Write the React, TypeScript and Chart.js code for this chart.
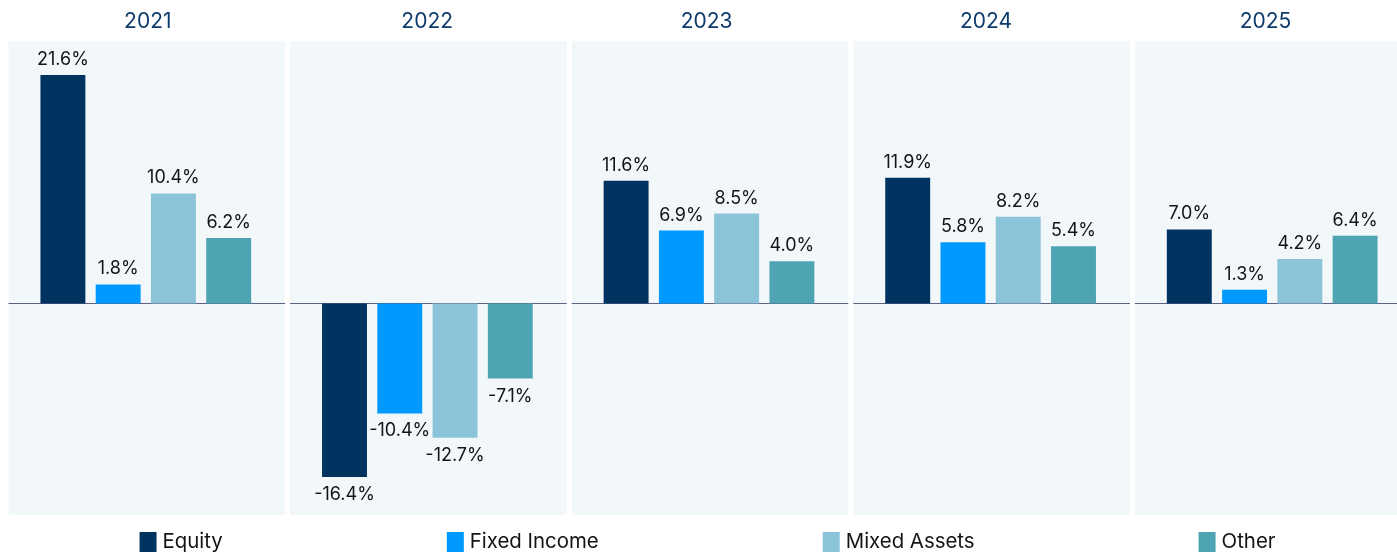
import React, { useEffect, useRef } from "react";
import { Chart, registerables } from "chart.js";

Chart.register(...registerables);

const years = ["2021", "2022", "2023", "2024", "2025"];
const equity = [21.6, -16.4, 11.6, 11.9, 7.0];
const fixedIncome = [1.8, -10.4, 6.9, 5.8, 1.3];
const mixedAssets = [10.4, -12.7, 8.5, 8.2, 4.2];
const other = [6.2, -7.1, 4.0, 5.4, 6.4];
const seriesNames = ["Equity", "Fixed Income", "Mixed Assets", "Other"];
const seriesColors = ["#00335f", "#0099ff", "#8bc4d8", "#4fa4b3"];

const FONT = "Inter, 'Noto Sans', sans-serif";

const panelPlugin = {
  id: "panels",
  beforeDatasetsDraw(chart: any) {
    const { ctx, chartArea } = chart;
    const n = chart.data.labels.length;
    const w = (chartArea.right - chartArea.left) / n;
    const y0 = chart.scales.y.getPixelForValue(0);
    ctx.save();
    for (let i = 0; i < n; i++) {
      const x0 = chartArea.left + i * w + 3.5;
      const x1 = chartArea.left + (i + 1) * w - 1.5;
      ctx.fillStyle = "#f2f7fa";
      ctx.fillRect(x0, chartArea.top, x1 - x0, chartArea.bottom - chartArea.top);
      ctx.strokeStyle = "#5d6185";
      ctx.lineWidth = 1.2;
      ctx.beginPath();
      ctx.moveTo(x0, y0);
      ctx.lineTo(x1, y0);
      ctx.stroke();
    }
    ctx.restore();
  },
};

const labelPlugin = {
  id: "valueLabels",
  afterDatasetsDraw(chart: any) {
    const ctx = chart.ctx;
    ctx.save();
    ctx.font = `18px ${FONT}`;
    ctx.fillStyle = "#141414";
    ctx.textAlign = "center";
    ctx.textBaseline = "alphabetic";
    chart.data.datasets.forEach((ds: any, di: number) => {
      const meta = chart.getDatasetMeta(di);
      meta.data.forEach((el: any, i: number) => {
        const v = ds.data[i];
        const text = v.toFixed(1) + "%";
        const y = v >= 0 ? el.y - 10 : el.y + 23;
        ctx.fillText(text, el.x, y);
      });
    });
    ctx.restore();
  },
};

const legendPlugin = {
  id: "customLegend",
  afterDraw(chart: any) {
    const { ctx, chartArea } = chart;
    ctx.save();
    ctx.font = `20.4px ${FONT}`;
    ctx.textBaseline = "alphabetic";
    ctx.textAlign = "left";
    const box = 17;
    const gapText = 6;
    const gapItem = 224;
    const items = chart.data.datasets.map((ds: any) => ({
      label: ds.label,
      color: ds.backgroundColor,
      w: box + gapText + ctx.measureText(ds.label).width,
    }));
    const total = items.reduce((s: number, it: any) => s + it.w, 0) + gapItem * (items.length - 1);
    const center = (chartArea.left + chartArea.right) / 2 - 1.5;
    let x = center - total / 2;
    const top = chartArea.bottom + 17;
    items.forEach((it: any) => {
      ctx.fillStyle = it.color;
      ctx.fillRect(x, top, box, 20);
      ctx.fillStyle = "#141414";
      ctx.fillText(it.label, x + box + gapText, top + 16);
      x += it.w + gapItem;
    });
    ctx.restore();
  },
};

export default function App() {
  const ref = useRef<HTMLCanvasElement>(null);
  useEffect(() => {
    if (!ref.current) return;
    const seriesData = [equity, fixedIncome, mixedAssets, other];
    const chart = new Chart(ref.current, {
      type: "bar",
      data: {
        labels: years,
        datasets: seriesNames.map((name, i) => ({
          label: name,
          data: seriesData[i],
          backgroundColor: seriesColors[i],
          borderWidth: 0,
          categoryPercentage: 0.785,
          barPercentage: 0.813,
        })),
      },
      options: {
        responsive: false,
        animation: false,
        layout: { padding: { left: 5, right: 0, top: 2, bottom: 37 } },
        plugins: {
          legend: { display: false },
          tooltip: { enabled: false },
          title: { display: false },
        },
        scales: {
          x: {
            display: false,
            grid: { display: false },
          },
          x2: {
            type: "linear",
            position: "top",
            bounds: "data",
            offset: false,
            min: -0.511,
            max: 4.528,
            grid: { display: false, drawTicks: false, offset: false },
            border: { display: false },
            afterBuildTicks: (axis: any) => {
              axis.ticks = years.map((_, i) => ({ value: i }));
            },
            ticks: {
              color: "#0e3a6c",
              font: { family: FONT, size: 21 },
              padding: 7,
              autoSkip: false,
              maxRotation: 0,
              callback: (v: any) => years[Math.round(Number(v))] ?? "",
            },
          },
          y: {
            display: false,
            min: -20,
            max: 24.8,
            grid: { display: false },
          },
        },
      },
      plugins: [panelPlugin, labelPlugin, legendPlugin],
    });
    return () => chart.destroy();
  }, []);

  return (
    <div
      style={{
        position: "fixed",
        left: 0,
        top: 0,
        width: 1397,
        height: 552,
        overflow: "hidden",
        background: "#ffffff",
      }}
    >
      <canvas ref={ref} width={1413} height={552} style={{ width: 1413, height: 552, display: "block" }} />
    </div>
  );
}
